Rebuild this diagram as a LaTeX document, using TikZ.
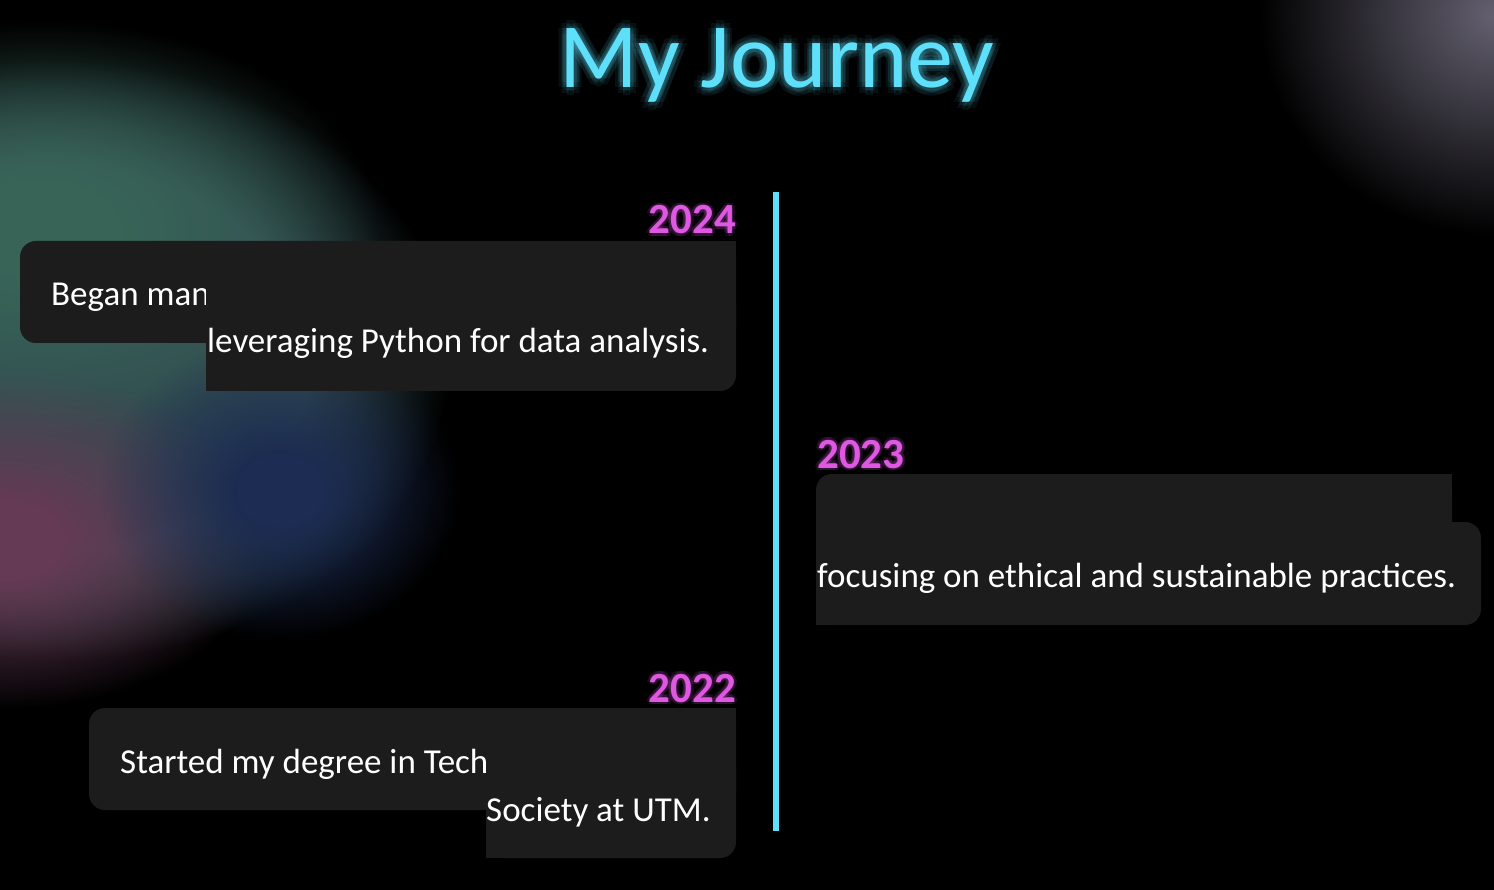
\documentclass[tikz,border=0pt]{standalone}
\usepackage{fontspec}
\setmainfont{Carlito}
\usetikzlibrary{positioning,fadings}
\definecolor{neoncyan}{RGB}{94,224,250}
\definecolor{yearpink}{RGB}{222,88,226}
\definecolor{cardbg}{RGB}{28,28,28}
\definecolor{blobbase}{RGB}{50,76,80}
\definecolor{blobteal}{RGB}{56,100,88}
\definecolor{blobpink}{RGB}{100,58,84}
\definecolor{blobblue}{RGB}{28,44,82}
\definecolor{blobgrey}{RGB}{100,96,112}
% 背景光斑的软边
\pgfdeclareradialshading{softblobshade}{\pgfpointorigin}{color(0bp)=(pgftransparent!0); color(16bp)=(pgftransparent!0); color(25bp)=(pgftransparent!100); color(50bp)=(pgftransparent!100)}
\pgfdeclarefading{softblob}{\pgfuseshading{softblobshade}}
\pgfdeclareradialshading{wideblobshade}{\pgfpointorigin}{color(0bp)=(pgftransparent!0); color(6bp)=(pgftransparent!0); color(25bp)=(pgftransparent!100); color(50bp)=(pgftransparent!100)}
\pgfdeclarefading{wideblob}{\pgfuseshading{wideblobshade}}

\begin{document}
\begin{tikzpicture}[x=1pt, y=-1pt,
    blob/.style={fill=#1, path fading=softblob, fit fading=true},
    tint/.style={fill=#1, path fading=wideblob, fit fading=true},
    card/.style={fill=cardbg},
    cardtext/.style={text=white, font=\fontsize{35}{40}\selectfont, inner sep=0pt},
    yeartext/.style={text=yearpink, font=\fontsize{43}{50}\selectfont\bfseries, inner sep=0pt},
    titletext/.style={text=neoncyan, font=\fontsize{92}{104}\selectfont, inner sep=0pt}]
    \useasboundingbox (0,0) rectangle (1494,890);
    \fill[black] (0,0) rectangle (1494,890);

    % 背景光斑
    \fill[blob=blobbase] (60,360) ellipse (390 and 300);
    \fill[tint=blobteal] (40,230) ellipse (340 and 210);
    \fill[tint=blobpink] (0,540) ellipse (270 and 170);
    \fill[tint=blobblue] (280,490) ellipse (180 and 150);
    \shade[inner color=blobgrey, outer color=black, blend mode=screen] (1494,15) ellipse (235 and 220);

    % 标题
    \foreach \r in {4,8} {
        \foreach \a in {0,45,...,315} {
            \node[titletext, anchor=base, opacity=.07, shift={(\a:\r)}] (titleglow\r-\a) at (777,88) {My Journey};
        }
    }
    \node[titletext, anchor=base] (title) at (777,88) {My Journey};

    % 时间轴
    \coordinate (lineTop) at (776,192);
    \coordinate (lineBot) at (776,831);
    \draw[neoncyan, line width=6pt] (lineTop) -- (lineBot);

    % 2024
    \fill[card, rounded corners=16] (20,241) rectangle (736,343);
    \fill[card] (400,241) rectangle (736,343);
    \node[cardtext, anchor=base west] (began) at (51,306) {Began man};
    \fill[card, rounded corners=16] (206,289) rectangle (736,391);
    \fill[card] (206,289) rectangle (500,391);
    \node[cardtext, anchor=base west] (python) at (207,353) {leveraging Python for data analysis.};

    % 2023
    \fill[card, rounded corners=16] (816,474) rectangle (1452,580);
    \fill[card] (1100,474) rectangle (1452,580);
    \fill[card, rounded corners=16] (816,522) rectangle (1481,625);
    \fill[card] (816,522) rectangle (1100,625);
    \node[cardtext, anchor=base west] (ethical) at (817,587) {focusing on ethical and sustainable practices.};

    % 2022
    \fill[card, rounded corners=16] (89,708) rectangle (736,810);
    \fill[card] (400,708) rectangle (736,810);
    \node[cardtext, anchor=base west] (degree) at (120,773) {Started my degree in Tech};
    \fill[card, rounded corners=16] (486,756) rectangle (736,858);
    \fill[card] (486,756) rectangle (600,858);
    \node[cardtext, anchor=base west] (utm) at (486,821) {Society at UTM.};

    % 年份
    \foreach \a in {0,60,...,300} {
        \node[yeartext, anchor=base east, opacity=.12, shift={(\a:3)}] (glowA\a) at (736,234) {2024};
        \node[yeartext, anchor=base west, opacity=.12, shift={(\a:3)}] (glowB\a) at (817,468) {2023};
        \node[yeartext, anchor=base east, opacity=.12, shift={(\a:3)}] (glowC\a) at (736,702) {2022};
    }
    \node[yeartext, anchor=base east] (y2024) at (736,234) {2024};
    \node[yeartext, anchor=base west] (y2023) at (817,468) {2023};
    \node[yeartext, anchor=base east] (y2022) at (736,702) {2022};
\end{tikzpicture}
\end{document}
